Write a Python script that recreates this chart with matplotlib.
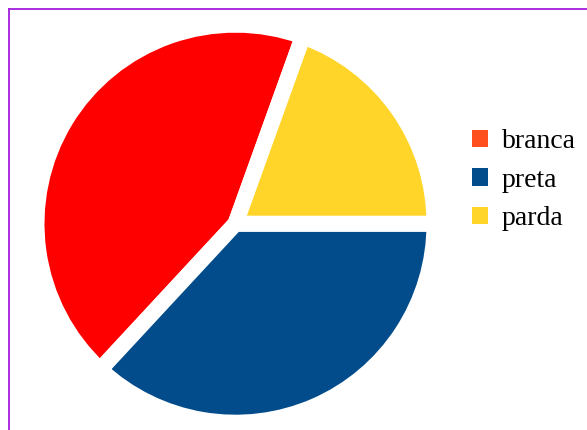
import matplotlib
matplotlib.use("Agg")
import matplotlib.pyplot as plt
from matplotlib.patches import Patch
from matplotlib.lines import Line2D

# Population share by colour/race (%)
categories = ["branca", "preta", "parda"]
shares = [43.6, 36.9, 19.5]
slice_colors = ["#FF0000", "#024C8C", "#FFD52A"]
legend_colors = ["#FF4F1F", "#024C8C", "#FFD52A"]

W, H, DPI = 587, 430, 100
fig = plt.figure(figsize=(W / DPI, H / DPI), dpi=DPI)
fig.patch.set_facecolor("white")

# pie axes: centre and radius in pixels
cx, cy, R = 235.5, 223.7, 199.0
ax = fig.add_axes([(cx - R) / W, (H - cy - R) / H, 2 * R / W, 2 * R / H])

start = 360.0 * shares[-1] / sum(shares)
wedges, _ = ax.pie(
    shares,
    colors=slice_colors,
    startangle=start,
    counterclock=True,
    radius=1.0,
    wedgeprops=dict(edgecolor="white", linewidth=11.5, joinstyle="miter"),
)
for w in wedges:
    w.set_clip_on(False)
ax.set_xlim(-1, 1)
ax.set_ylim(-1, 1)
ax.set_aspect("equal")
ax.axis("off")

handles = [Patch(facecolor=c, edgecolor="none") for c in legend_colors]
leg = fig.legend(
    handles, categories,
    loc="upper left",
    bbox_to_anchor=(472 / W, 1 - 129.5 / H),
    frameon=False,
    prop=dict(family="Liberation Serif", size=20),
    handlelength=0.58, handleheight=0.58,
    handletextpad=0.5, labelspacing=0.48,
    borderpad=0.0, borderaxespad=0.0,
)

# purple frame along the top and left edges
frame_color = "#A21CDC"
fig.add_artist(Line2D([9 / W, 1.02], [1 - 8.5 / H, 1 - 8.5 / H],
                      transform=fig.transFigure, color=frame_color, lw=1.3, clip_on=False))
fig.add_artist(Line2D([9 / W, 9 / W], [1 - 8.5 / H, -0.02],
                      transform=fig.transFigure, color=frame_color, lw=1.3, clip_on=False))

fig.savefig("out.png", dpi=DPI, facecolor="white")
